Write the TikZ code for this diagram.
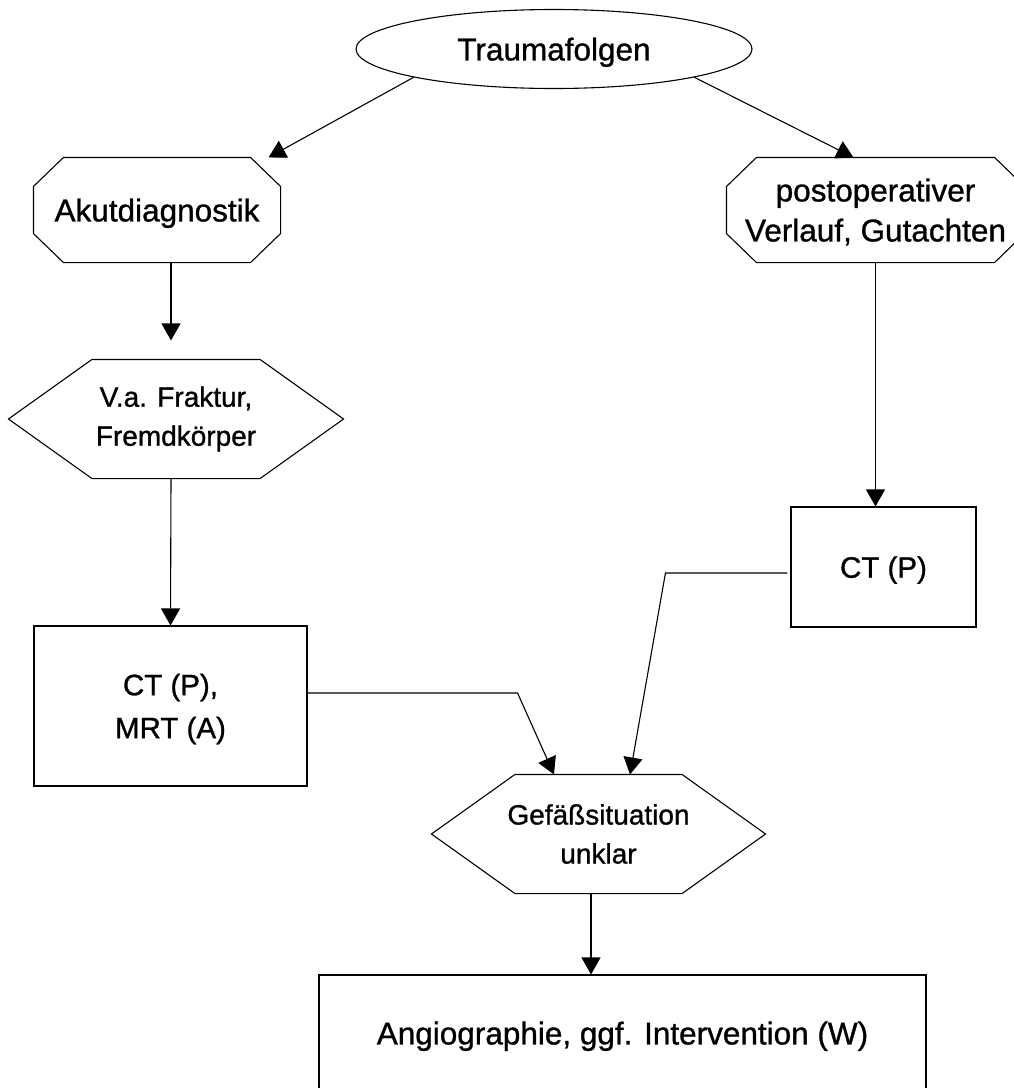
\documentclass[tikz,border=0pt]{standalone}
\usepackage{fontspec}
\setmainfont{Liberation Sans}[FakeBold=1]
\usetikzlibrary{arrows.meta,shapes.geometric}
\tikzstyle{block} = [draw, rectangle, inner sep=0pt, align=center, text depth=0pt]
\tikzstyle{oval} = [draw, ellipse, inner sep=0pt, text depth=0pt]
\tikzstyle{octa} = [rectangle, inner sep=0pt, align=center, text depth=0pt]
\tikzstyle{hexa} = [rectangle, inner sep=0pt, align=center, font=\fontsize{28}{39}\selectfont]
\tikzstyle{ctfont} = [font=\fontsize{29.5}{43}\selectfont]
% outlines drawn round the named nodes
\newcommand{\octoutline}[1]{\draw ([xshift=30pt]#1.north west) -- ([xshift=-30pt]#1.north east) -- ([yshift=-29pt]#1.north east) -- ([yshift=29pt]#1.south east) -- ([xshift=-30pt]#1.south east) -- ([xshift=30pt]#1.south west) -- ([yshift=29pt]#1.south west) -- ([yshift=-29pt]#1.north west) -- cycle;}
\newcommand{\hexoutline}[1]{\draw ([xshift=83.5pt]#1.north west) -- ([xshift=-83.5pt]#1.north east) -- (#1.east) -- ([xshift=-83.5pt]#1.south east) -- ([xshift=83.5pt]#1.south west) -- (#1.west) -- cycle;}
\begin{document}
\begin{tikzpicture}[x=1pt, y=-1pt, line width=1.1pt, >={Triangle[length=17pt,width=19pt]}, font=\fontsize{31.5}{40}\selectfont]
\useasboundingbox (0,0) rectangle (1013,1088);

\node [oval, minimum width=396pt, minimum height=79pt] (trauma) at (554,49) {Traumafolgen};
\node [octa, minimum width=246pt, minimum height=104pt] (akut) at (157,210) {Akutdiagnostik};
\node [octa, minimum width=297pt, minimum height=104pt] (postop) at (875.5,210) {postoperativer\\Verlauf, Gutachten};
\node [hexa, minimum width=334pt, minimum height=118pt] (va) at (176,419) {V.a. Fraktur,\\Fremdkörper};
\node [block, ctfont, minimum width=273pt, minimum height=160pt] (ctmrt) at (170.5,706) {CT (P),\\MRT (A)};
\node [block, ctfont, minimum width=185pt, minimum height=120pt] (ctp) at (883.5,567) {CT (P)};
\node [hexa, minimum width=333pt, minimum height=118pt] (gef) at (598.5,834) {Gefäßsituation\\unklar};
\node [block, minimum width=607pt, minimum height=116pt] (angio) at (622.5,1033) {Angiographie, ggf. Intervention (W)};

\octoutline{akut}
\octoutline{postop}
\hexoutline{va}
\hexoutline{gef}

\draw [->] (trauma.south west) -- ([xshift=-12pt]akut.north east);
\draw [->] (trauma.south east) -- ([xshift=-22pt]postop.north);
\draw [->, shorten >=19pt] ([xshift=14pt]akut.south) -- ([xshift=-5pt]va.north);
\draw [->] ([xshift=-5pt]va.south) -- (ctmrt.north);
\draw [->] (postop.south) -- ([xshift=-8pt]ctp.north);
\draw [->] ([yshift=13pt]ctmrt.east) -- ++(210,0) -- ([xshift=-44.5pt]gef.north);
\draw [->] ([xshift=-3pt,yshift=-6pt]ctp.west) -- ++(-122,0) -- ([xshift=31.5pt]gef.north);
\draw [->] ([xshift=-7.5pt]gef.south) -- ([xshift=-31.5pt]angio.north);
\end{tikzpicture}
\end{document}
